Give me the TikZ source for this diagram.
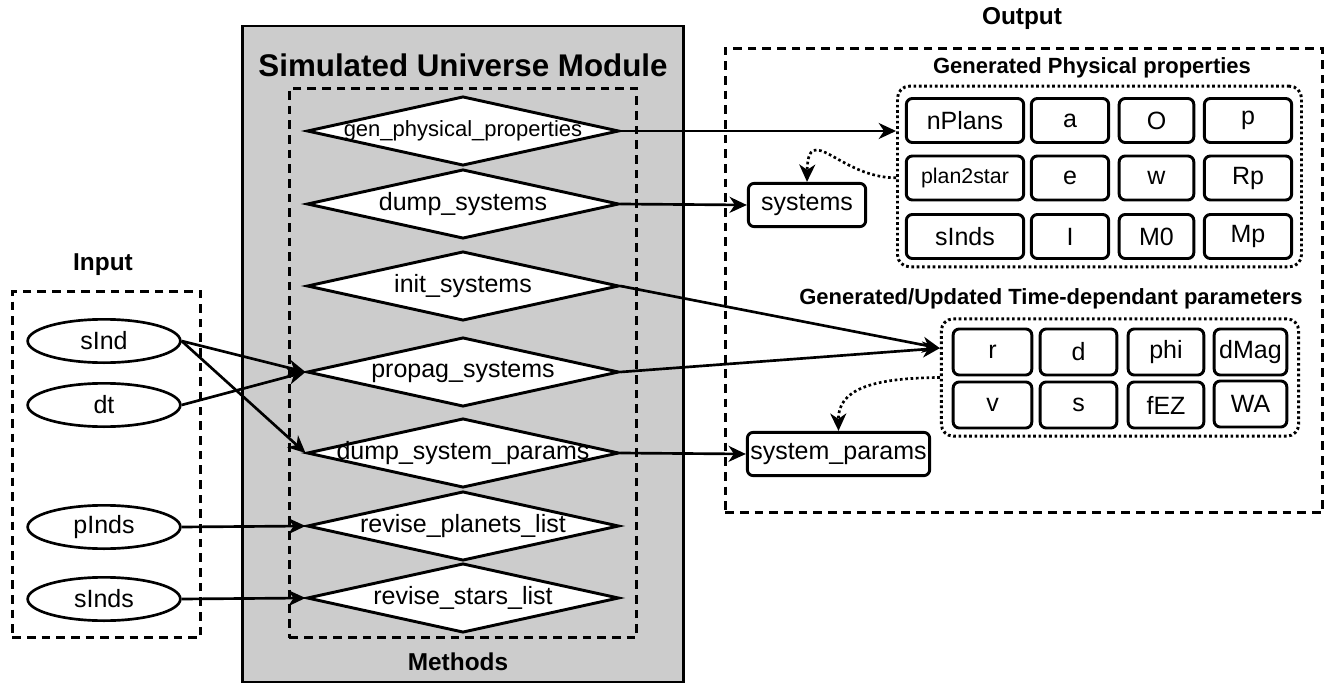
\documentclass[tikz,border=0pt]{standalone}
\usepackage{fontspec}
\setmainfont{Liberation Sans}
\usetikzlibrary{shapes.geometric,arrows.meta}
\begin{document}
\begin{tikzpicture}[x=0.75pt,y=-0.75pt,
  every node/.style={font=\fontsize{18.75}{22}\selectfont},
  meth/.style={diamond, draw, fill=white, line width=2.2pt, minimum width=234pt, minimum height=52pt, inner sep=0pt},
  inp/.style={ellipse, draw, line width=2pt, minimum width=114.5pt, minimum height=32.5pt, inner sep=0pt},
  cell/.style={draw, rounded corners=4.5pt, line width=2.2pt, inner sep=0pt, minimum height=33pt},
  tcell/.style={draw, rounded corners=4.5pt, line width=2.2pt, inner sep=0pt, minimum height=34.5pt},
  grp/.style={draw, dash pattern=on 2pt off 2pt, rounded corners=9pt, line width=2.2pt, inner sep=0pt},
  dbox/.style={draw, dash pattern=on 6.5pt off 4.5pt, line width=2pt, inner sep=0pt},
  lbl/.style={font=\bfseries\fontsize{18.3}{22}\selectfont},
  sublbl/.style={font=\bfseries\fontsize{16.5}{20}\selectfont},
  arr/.style={-{Stealth[length=13pt,width=12pt,inset=4pt]}, line width=2pt},
  dotarr/.style={arr, dash pattern=on 2pt off 2pt},
]
\useasboundingbox (0,0) rectangle (1325,685);

% containers
\node[draw, fill=gray!40, line width=2.2pt, minimum width=330.5pt, minimum height=492pt, inner sep=0pt] (module) at (463,354) {};
\node[dbox, minimum width=260.5pt, minimum height=412pt] (methods) at (463,363) {};
\node[dbox, minimum width=141.25pt, minimum height=259.75pt] (input) at (106.5,464.5) {};
\node[dbox, minimum width=448pt, minimum height=348.25pt] (output) at (1024,280.5) {};

% labels
\node[font=\bfseries\fontsize{23.5}{28}\selectfont] (title) at (463,65) {Simulated Universe Module};
\node[lbl] (methlbl) at (458,662) {Methods};
\node[lbl] (inlbl) at (103,265) {Input};
\node[lbl] (outlbl) at (1022,19) {Output};
\node[sublbl] (physlbl) at (1092,68) {Generated Physical properties};
\node[sublbl] (timelbl) at (1051,299) {Generated/Updated Time-dependant parameters};

% methods
\node[meth] (gen) at (463,131) {\makebox[0pt]{\fontsize{16.5}{20}\selectfont gen\_physical\_properties}};
\node[meth] (dsys) at (463,204) {\makebox[0pt]{dump\_systems}};
\node[meth] (init) at (463,286) {\makebox[0pt]{init\_systems}};
\node[meth] (propag) at (463,372) {\makebox[0pt]{propag\_systems}};
\node[meth] (dsp) at (463,453) {\makebox[0pt]{dump\_system\_params}};
\node[meth] (rpl) at (463,526) {\makebox[0pt]{revise\_planets\_list}};
\node[meth] (rst) at (463,598) {\makebox[0pt]{revise\_stars\_list}};

% inputs
\node[inp] (sind) at (104,341) {sInd};
\node[inp] (dt) at (104,405) {dt};
\node[inp] (pinds) at (104,527) {pInds};
\node[inp] (sinds) at (104,599) {sInds};

% physical properties group
\node[grp, minimum width=303pt, minimum height=135.5pt] (phys) at (1099.5,176.5) {};
\node[cell, minimum width=88pt] (nplans) at (965,120.5) {nPlans};
\node[cell, minimum width=58pt] (pa) at (1070,120.5) {a};
\node[cell, minimum width=56pt] (pO) at (1156.5,120.5) {O};
\node[cell, minimum width=65.5pt] (pp) at (1248,120.5) {p};
\node[cell, minimum width=88pt] (plan2star) at (965,178) {\fontsize{16}{19}\selectfont plan2star};
\node[cell, minimum width=58pt] (pe) at (1070,178) {e};
\node[cell, minimum width=56pt] (pw) at (1156.5,178) {w};
\node[cell, minimum width=65.5pt] (pRp) at (1248,178) {Rp};
\node[cell, minimum width=88pt] (psinds) at (965,236.5) {sInds};
\node[cell, minimum width=58pt] (pI) at (1070,236.5) {I};
\node[cell, minimum width=56pt] (pM0) at (1156.5,236.5) {M0};
\node[cell, minimum width=65.5pt] (pMp) at (1248,236.5) {Mp};

% time-dependent group
\node[grp, minimum width=268pt, minimum height=88pt] (time) at (1120,377.5) {};
\node[tcell, minimum width=59pt] (tr) at (992.5,352) {r};
\node[tcell, minimum width=57.5pt] (td) at (1078.5,352) {d};
\node[tcell, minimum width=56.75pt] (tphi) at (1166,352) {phi};
\node[tcell, minimum width=54.5pt] (tdmag) at (1250.5,352) {dMag};
\node[tcell, minimum width=59pt] (tv) at (992.5,405) {v};
\node[tcell, minimum width=57.5pt] (ts) at (1078.5,405) {s};
\node[tcell, minimum width=56.75pt] (tfez) at (1166,405) {fEZ};
\node[tcell, minimum width=54.5pt] (twa) at (1250.5,404) {WA};

% outputs
\node[cell, minimum width=88pt, minimum height=32.5pt] (systems) at (807,205) {systems};
\node[cell, minimum width=136.75pt, minimum height=32.5pt] (sysp) at (838.5,454) {system\_params};

% connectors
\draw[arr] (gen.east) -- (gen.east -| phys.west);
\draw[arr] (dsys.east) -- (systems.west);
\draw[arr] (init.east) -- ([yshift=22pt]time.west);
\draw[arr] (propag.east) -- ([yshift=22pt]time.west);
\draw[arr] (dsp.east) -- (sysp.west);
\draw[dotarr] ([yshift=-1pt]phys.west) .. controls (840,178) and (808,120) .. (systems.north);
\draw[dotarr] (time.west) .. controls (870,378) and (838,390) .. (sysp.north);

\draw[arr] (sind.east) -- (propag.west);
\draw[arr] (sind.east) -- (dsp.west);
\draw[arr] (dt.east) -- (propag.west);
\draw[arr] (pinds.east) -- (rpl.west);
\draw[arr] (sinds.east) -- (rst.west);
\end{tikzpicture}
\end{document}
